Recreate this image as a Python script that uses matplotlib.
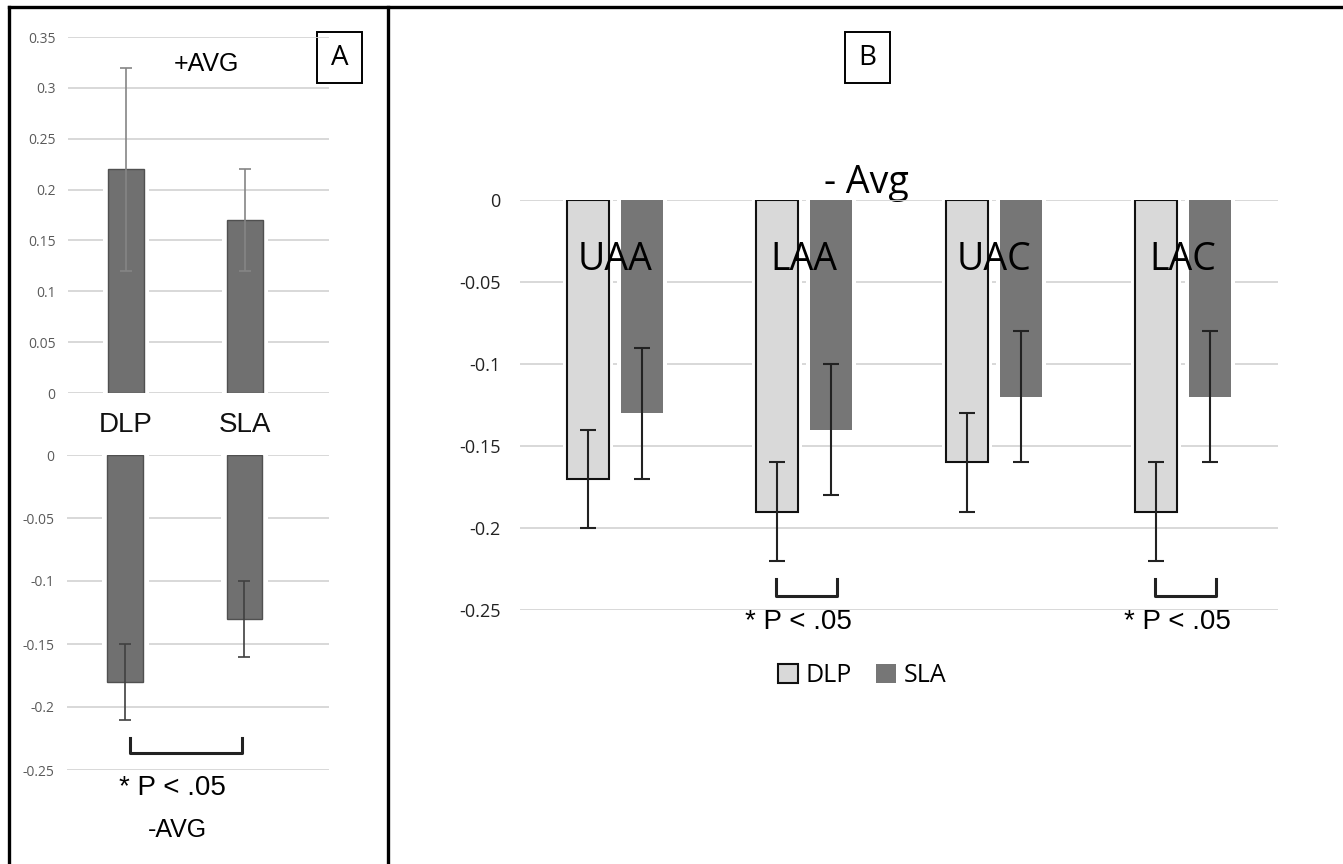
import numpy as np
import matplotlib
matplotlib.use('Agg')
import matplotlib.pyplot as plt
from matplotlib.patches import Rectangle

# Panel A: DLP vs SLA, positive and negative averages
a_groups = ['DLP', 'SLA']
a_pos_avg = [0.22, 0.17]
a_pos_err = [0.10, 0.05]
a_neg_avg = [-0.18, -0.13]
a_neg_err = [0.03, 0.03]

# Panel B: negative average per region
b_regions = ['UAA', 'LAA', 'UAC', 'LAC']
b_dlp = [-0.17, -0.19, -0.16, -0.19]
b_dlp_err = [0.03, 0.03, 0.03, 0.03]
b_sla = [-0.13, -0.14, -0.12, -0.12]
b_sla_err = [0.04, 0.04, 0.04, 0.04]

a_pos_ticks = [0, 0.05, 0.1, 0.15, 0.2, 0.25, 0.3, 0.35]
a_neg_ticks = [-0.25, -0.2, -0.15, -0.1, -0.05, 0]
b_ticks = [-0.25, -0.2, -0.15, -0.1, -0.05, 0]

W, H = 1343, 864
fig = plt.figure(figsize=(W / 100, H / 100), dpi=100)
fig.patch.set_facecolor('white')


def px_axes(left, top, right, bottom):
    ax = fig.add_axes([left / W, 1 - bottom / H, (right - left) / W, (bottom - top) / H])
    ax.set_facecolor('none')
    return ax


def fmt(v):
    return f'{round(v, 2):g}'


def style_axes(ax, ticks, size, color, pad, grid_color):
    ax.set_yticks(ticks)
    ax.set_yticklabels([fmt(t) for t in ticks], fontsize=size, color=color, family='Open Sans')
    ax.tick_params(axis='y', length=0, pad=pad)
    ax.tick_params(axis='x', length=0)
    for s in ax.spines.values():
        s.set_visible(False)
    ax.yaxis.grid(True, color=grid_color, lw=1.3, zorder=0)
    ax.set_axisbelow(True)


# overlay for frame lines and loose labels (pixel coords)
bg = fig.add_axes([0, 0, 1, 1], zorder=-1)
bg.set_xlim(0, W)
bg.set_ylim(H, 0)
bg.axis('off')
for xs, ys in [([9, W], [7, 7]), ([9, 9], [7, H]), ([388, 388], [7, H])]:
    bg.plot(xs, ys, color='black', lw=2.4, solid_capstyle='projecting')

# ---- Panel A upper (+AVG)
a_x = np.arange(len(a_groups))
ax1 = px_axes(68, 37, 329, 393)
ax1.set_xlim(-0.49, 1.71)
ax1.set_ylim(0, 0.35)
style_axes(ax1, a_pos_ticks, 10, '#5a5a5a', 9, '#d6d6d6')
ax1.bar(a_x, a_pos_avg, width=0.39, color='white', zorder=1)
ax1.bar(a_x, a_pos_avg, width=0.30, color='#707070', edgecolor='#505050', lw=1, zorder=2,
        yerr=a_pos_err, error_kw=dict(ecolor='#858585', elinewidth=1.2, capsize=4, capthick=1.2, zorder=3))
ax1.set_xticks(a_x)
ax1.set_xticklabels(a_groups, fontsize=20, family='Liberation Sans', color='#111111')
ax1.tick_params(axis='x', pad=14)

# ---- Panel A lower (-AVG)
ax2 = px_axes(67, 455, 329, 770)
ax2.set_xlim(-0.49, 1.71)
ax2.set_ylim(-0.25, 0)
style_axes(ax2, a_neg_ticks, 10, '#5a5a5a', 9, '#d6d6d6')
ax2.set_xticks([])
ax2.bar(a_x, a_neg_avg, width=0.39, color='white', zorder=1)
ax2.bar(a_x, a_neg_avg, width=0.30, color='#707070', edgecolor='#505050', lw=1, zorder=2,
        yerr=a_neg_err, error_kw=dict(ecolor='#404040', elinewidth=1.2, capsize=4, capthick=1.2, zorder=3))
ax2.plot([0.04, 0.04, 0.98, 0.98], [-0.2246, -0.2365, -0.2365, -0.2246], color='#222222', lw=2.2,
         clip_on=False, zorder=4)

bg.text(206, 64, '+AVG', fontsize=18, family='Liberation Sans', ha='center', va='center')
bg.add_patch(Rectangle((317, 32), 45, 51, fill=False, edgecolor='black', lw=1.4))
bg.text(339.5, 58, 'A', fontsize=20, family='Open Sans', ha='center', va='center')
bg.text(172, 788, '* P < .05', fontsize=20, family='Liberation Sans', ha='center', va='center')
bg.text(177, 830, '-AVG', fontsize=18, family='Liberation Sans', ha='center', va='center')

# ---- Panel B
b_x = np.arange(len(b_regions))
off = 0.143
ax3 = px_axes(520, 200, 1278, 610)
ax3.set_xlim(-0.5, 3.5)
ax3.set_ylim(-0.25, 0)
style_axes(ax3, b_ticks, 13, '#222222', 14, '#d6d6d6')
ax3.set_xticks([])
ax3.bar(b_x - off, b_dlp, width=0.265, color='white', zorder=1)
ax3.bar(b_x + off, b_sla, width=0.265, color='white', zorder=1)
dlp_bars = ax3.bar(b_x - off, b_dlp, width=0.222, color='#d9d9d9', edgecolor='#111111', lw=1.5,
                   zorder=2, label='DLP', yerr=b_dlp_err,
                   error_kw=dict(ecolor='#222222', elinewidth=1.5, capsize=5.5, capthick=1.5, zorder=3))
sla_bars = ax3.bar(b_x + off, b_sla, width=0.222, color='#767676', lw=0, zorder=2, label='SLA',
                   yerr=b_sla_err,
                   error_kw=dict(ecolor='#222222', elinewidth=1.5, capsize=5.5, capthick=1.5, zorder=3))
for xi, name in zip(b_x, b_regions):
    ax3.text(xi, -0.0366, name, fontsize=27, family='Open Sans', ha='center', va='center', zorder=5)

# significance brackets under LAA and LAC
for gi in [1, 3]:
    x0 = gi - off - 0.006
    x1 = gi + off + 0.03
    ax3.plot([x0, x0, x1, x1], [-0.231, -0.2415, -0.2415, -0.231], color='#222222', lw=2.2,
             clip_on=False, zorder=4)
    ax3.text(gi - 0.03, -0.2575, '* P < .05', fontsize=20, family='Liberation Sans',
             ha='center', va='center', clip_on=False)

bg.text(866, 183, '- Avg', fontsize=27, family='Open Sans', ha='center', va='center')
bg.add_patch(Rectangle((845, 32), 45, 51, fill=False, edgecolor='black', lw=1.4))
bg.text(867.5, 58, 'B', fontsize=20, family='Open Sans', ha='center', va='center')

fig.legend(handles=[dlp_bars, sla_bars], labels=['DLP', 'SLA'], loc='center',
           bbox_to_anchor=(862 / W, 1 - 676 / H), ncol=2, frameon=False,
           prop={'family': 'Open Sans', 'size': 18}, handlelength=0.8, handleheight=0.8,
           handletextpad=0.3, columnspacing=1.0)

fig.savefig('out.png', dpi=100)
